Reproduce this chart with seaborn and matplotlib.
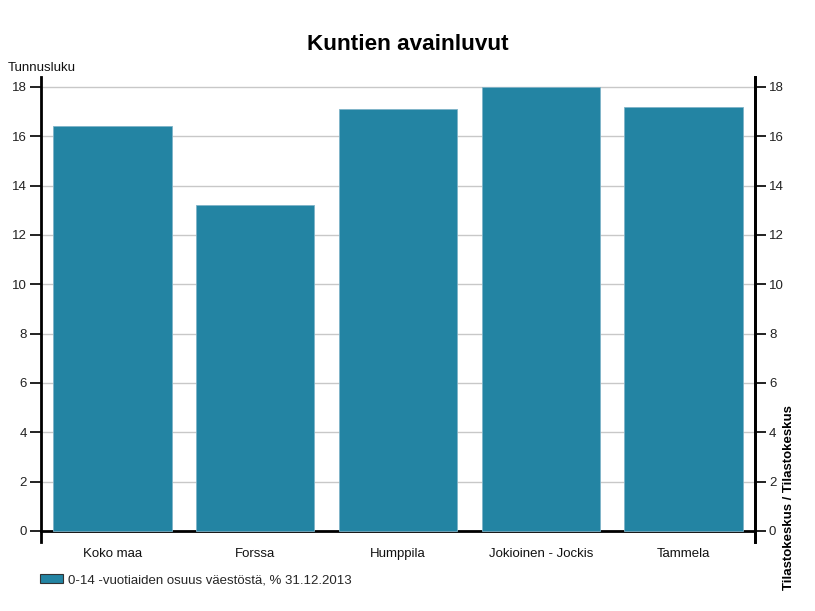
import matplotlib
matplotlib.use("Agg")
import matplotlib.pyplot as plt
import seaborn as sns
import pandas as pd
from matplotlib.patches import Patch

categories = ["Koko maa", "Forssa", "Humppila", "Jokioinen - Jockis", "Tammela"]
values = [16.4, 13.2, 17.1, 18.0, 17.2]
yticks = [0, 2, 4, 6, 8, 10, 12, 14, 16, 18]
series_name = "0-14 -vuotiaiden osuus väestöstä, % 31.12.2013"

sns.set_theme(style="white")
plt.rcParams["font.family"] = ["Liberation Sans", "DejaVu Sans"]

color = "#2384a3"
df = pd.DataFrame({"cat": categories, "val": values})

fig = plt.figure(figsize=(8.15, 6.11), dpi=100)
ax = fig.add_axes([41/815, 1-542/611, (755-41)/815, (542-77)/611])

sns.barplot(data=df, x="cat", y="val", color=color, width=0.83, ax=ax,
            saturation=1, edgecolor="#7fb3c8", linewidth=0.6, zorder=3)

ax.set_xlim(-0.5, len(categories) - 0.5)
ax.set_ylim(-0.45, 18.4)
ax.set_yticks(yticks)
ax.set_yticklabels([str(t) for t in yticks], fontsize=9.5, color="#222222")
ax.yaxis.grid(True, color="#c8c8c8", linewidth=1, zorder=0)
ax.set_axisbelow(True)
ax.set_xlabel("")
ax.set_ylabel("")
ax.tick_params(axis="x", labelsize=9.5, length=8, width=1.5, direction="out",
               colors="#111111", pad=4)
ax.tick_params(axis="y", length=8, width=1.3, direction="out", pad=2, colors="#111111")
for lab in ax.get_xticklabels():
    lab.set_color("#222222")
for lab in ax.get_yticklabels():
    lab.set_color("#222222")

ax.spines["top"].set_visible(False)
ax.spines["bottom"].set_position(("data", 0))
ax.spines["bottom"].set_linewidth(2)
ax.spines["bottom"].set_color("black")
ax.spines["left"].set_linewidth(2)
ax.spines["left"].set_color("black")
ax.spines["right"].set_linewidth(2)
ax.spines["right"].set_color("black")
ax.spines["right"].set_visible(True)

ax2 = ax.twinx()
ax2.set_ylim(ax.get_ylim())
ax2.set_yticks(yticks)
ax2.set_yticklabels([str(t) for t in yticks], fontsize=9.5, color="#222222")
ax2.tick_params(axis="y", length=8, width=1.3, direction="out", pad=2, colors="#111111")
for lab in ax2.get_yticklabels():
    lab.set_color("#222222")
for s in ["top", "bottom", "left"]:
    ax2.spines[s].set_visible(False)
ax2.spines["right"].set_linewidth(2)
ax2.spines["right"].set_color("black")

fig.text(408/815, 1-44/611, "Kuntien avainluvut", ha="center", va="center",
         fontsize=16.2, fontweight="bold", color="black")
fig.text(8/815, 1-68/611, "Tunnusluku", ha="left", va="center", fontsize=9.5, color="#111111")
fig.text(789/815, 1-498/611, "Tilastokeskus / Tilastokeskus", ha="center", va="center",
         rotation=90, fontsize=9.5, fontweight="bold", color="black")

handle = Patch(facecolor=color, edgecolor="#333333", linewidth=0.8)
fig.legend([handle], [series_name], loc="center left",
           bbox_to_anchor=(40/815, 1-580/611), frameon=False, fontsize=9.5,
           handlelength=1.75, handleheight=0.75, handletextpad=0.38, borderpad=0,
           borderaxespad=0)

fig.savefig("out.png", dpi=100)
